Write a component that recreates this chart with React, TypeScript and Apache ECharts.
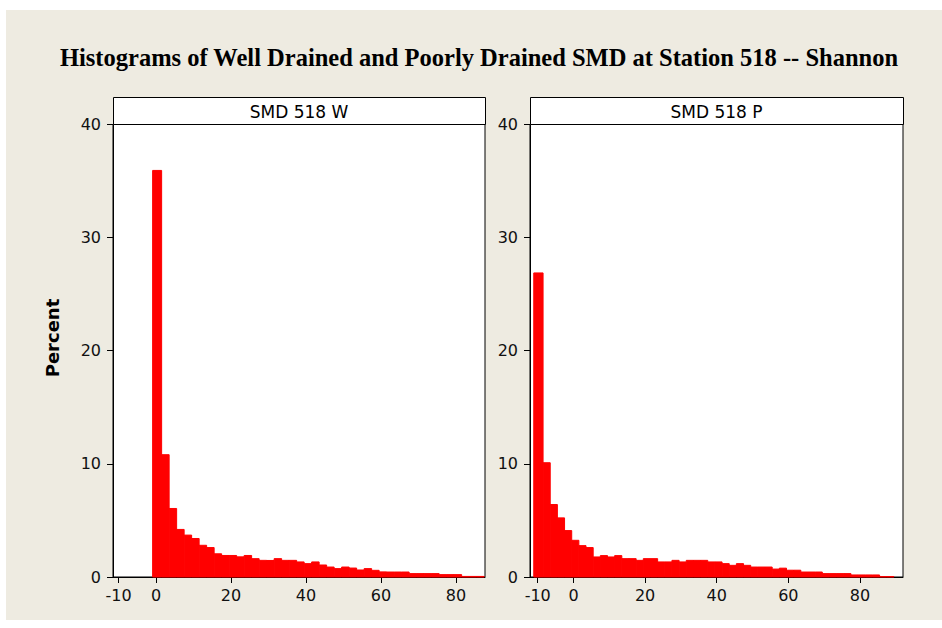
import React, { useEffect, useRef } from "react";
import * as echarts from "echarts";

// ---------- data ----------
const title = "Histograms of Well Drained and Poorly Drained SMD at Station 518 -- Shannon";
const panelNames = ["SMD 518 W", "SMD 518 P"];
const yLabel = "Percent";
const xTickValues = [-10, 0, 20, 40, 60, 80];
const yTickValues = [0, 10, 20, 30, 40];

// Well drained: left edges of bins, final right edge, percent per bin
const wellBinLeft = [
  -0.9, 1.5, 3.5, 5.5, 7.5, 9.5, 11.5, 13.5, 15.5, 17.5, 19.5, 21.5, 23.5, 25.5, 27.5,
  29.5, 31.5, 33.5, 35.5, 37.5, 39.5, 41.5, 43.5, 45.5, 47.5, 49.5, 51.5, 53.5, 55.5, 57.5,
  59.5, 61.5, 63.5, 65.5, 67.5, 69.5, 71.5, 73.5, 75.5, 77.5, 79.5, 81.5, 83.5, 85.5,
];
const wellBinEnd = 87.5;
const wellPercent = [
  35.9, 10.8, 6.05, 4.2, 3.7, 3.4, 2.8, 2.6, 2.05, 1.9, 1.9, 1.78, 1.9, 1.62, 1.47,
  1.46, 1.62, 1.47, 1.47, 1.33, 1.18, 1.33, 1.06, 0.88, 0.74, 0.88, 0.79, 0.62, 0.74, 0.59,
  0.45, 0.44, 0.44, 0.44, 0.3, 0.3, 0.3, 0.3, 0.21, 0.21, 0.21, 0.05, 0.05, 0.05,
];

// Poorly drained
const poorBinLeft = [
  -11.1, -8.5, -6.5, -4.5, -2.5, -0.5, 1.5, 3.5, 5.5, 7.5, 9.5, 11.5, 13.5, 15.5, 17.5,
  19.5, 21.5, 23.5, 25.5, 27.5, 29.5, 31.5, 33.5, 35.5, 37.5, 39.5, 41.5, 43.5, 45.5, 47.5,
  49.5, 51.5, 53.5, 55.5, 57.5, 59.5, 61.5, 63.5, 65.5, 67.5, 69.5, 71.5, 73.5, 75.5, 77.5,
  79.5, 81.5, 83.5, 85.5, 87.5,
];
const poorBinEnd = 89.5;
const poorPercent = [
  26.85, 10.09, 6.4, 5.22, 4.1, 3.24, 2.77, 2.6, 1.77, 1.89, 1.77, 1.89, 1.62, 1.62, 1.47,
  1.62, 1.62, 1.33, 1.33, 1.47, 1.33, 1.47, 1.47, 1.47, 1.33, 1.33, 1.18, 1.03, 1.18, 1.03,
  0.88, 0.88, 0.88, 0.7, 0.78, 0.6, 0.6, 0.44, 0.44, 0.44, 0.3, 0.3, 0.3, 0.3, 0.18,
  0.18, 0.18, 0.18, 0.04, 0.04,
];

const FONT = "DejaVu Sans";
const BG = "#EEEBE1";

function toBins(left: number[], end: number, vals: number[]) {
  return vals.map((v, i) => [left[i], i + 1 < left.length ? left[i + 1] : end, v]);
}

const renderBar = (params: any, api: any) => {
  const x0 = api.value(0);
  const x1 = api.value(1);
  const v = api.value(2);
  const p0 = api.coord([x0, v]);
  const p1 = api.coord([x1, 0]);
  return {
    type: "rect",
    shape: { x: p0[0], y: p0[1], width: p1[0] - p0[0], height: p1[1] - p0[1] },
    style: { fill: "#FF0000", stroke: "#FF0000", lineWidth: 1 },
  };
};

export default function App() {
  const ref = useRef<HTMLDivElement>(null);
  useEffect(() => {
    if (!ref.current) return;
    const chart = echarts.init(ref.current, null, { renderer: "svg" });

    const panels = [
      { left: 113, width: 372, min: -11.47, max: 87.73 },
      { left: 530, width: 373, min: -12.15, max: 92.04 },
    ];
    const top = 124;
    const height = 453;
    const stripTop = 97;

    const xAxisFor = (i: number) => ({
      type: "value",
      gridIndex: i,
      min: panels[i].min,
      max: panels[i].max,
      axisLine: { show: true, onZero: false, lineStyle: { color: "#000", width: 1 } },
      axisTick: { show: true, length: 6, inside: false, lineStyle: { color: "#000" }, customValues: xTickValues },
      axisLabel: { show: true, customValues: xTickValues, color: "#111", fontSize: 16, fontFamily: FONT, margin: 10 },
      splitLine: { show: false },
    });
    const yAxisFor = (i: number) => ({
      type: "value",
      gridIndex: i,
      position: "left",
      min: 0,
      max: 40,
      interval: 10,
      axisLine: { show: true, onZero: false, lineStyle: { color: "#000", width: 1 } },
      axisTick: { show: true, length: 6, inside: false, lineStyle: { color: "#000" }, customValues: yTickValues },
      axisLabel: { show: true, customValues: yTickValues, color: "#111", fontSize: 16, fontFamily: FONT, margin: 12 },
      splitLine: { show: false },
    });

    const graphics: any[] = [
      { type: "rect", z: -100, shape: { x: 6, y: 10, width: 936, height: 610 }, style: { fill: BG } },
      {
        type: "text",
        x: 479,
        y: 57,
        style: {
          text: title,
          fontFamily: "Liberation Serif",
          fontWeight: "bold",
          fontSize: 24.5,
          fill: "#000",
          align: "center",
          verticalAlign: "middle",
        },
      },
      {
        type: "text",
        x: 52,
        y: 338,
        rotation: Math.PI / 2,
        style: {
          text: yLabel,
          fontFamily: FONT,
          fontWeight: "bold",
          fontSize: 18,
          fill: "#000",
          align: "center",
          verticalAlign: "middle",
        },
      },
    ];
    panels.forEach((p, i) => {
      graphics.push({
        type: "rect",
        z: 5,
        shape: { x: p.left + 0.5, y: stripTop + 0.5, width: p.width, height: top - stripTop },
        style: { fill: "#fff", stroke: "#000", lineWidth: 1 },
      });
      graphics.push({
        type: "text",
        z: 6,
        x: p.left + p.width / 2,
        y: (stripTop + top) / 2 + 1,
        style: {
          text: panelNames[i],
          fontFamily: FONT,
          fontSize: 17,
          fill: "#000",
          align: "center",
          verticalAlign: "middle",
        },
      });
    });

    chart.setOption({
      animation: false,
      backgroundColor: "#fff",
      grid: panels.map((p) => ({
        left: p.left,
        top,
        width: p.width,
        height,
        show: true,
        backgroundColor: "#fff",
        borderColor: "#000",
        borderWidth: 1,
        containLabel: false,
      })),
      xAxis: [xAxisFor(0), xAxisFor(1)],
      yAxis: [yAxisFor(0), yAxisFor(1)],
      graphic: graphics,
      series: [
        {
          type: "custom",
          xAxisIndex: 0,
          yAxisIndex: 0,
          renderItem: renderBar,
          encode: { x: [0, 1], y: 2 },
          data: toBins(wellBinLeft, wellBinEnd, wellPercent),
          silent: true,
        },
        {
          type: "custom",
          xAxisIndex: 1,
          yAxisIndex: 1,
          renderItem: renderBar,
          encode: { x: [0, 1], y: 2 },
          data: toBins(poorBinLeft, poorBinEnd, poorPercent),
          silent: true,
        },
      ],
    });
    return () => chart.dispose();
  }, []);
  return (
    <div
      ref={ref}
      style={{ position: "fixed", left: 0, top: 0, width: 942, height: 628 }}
    />
  );
}
